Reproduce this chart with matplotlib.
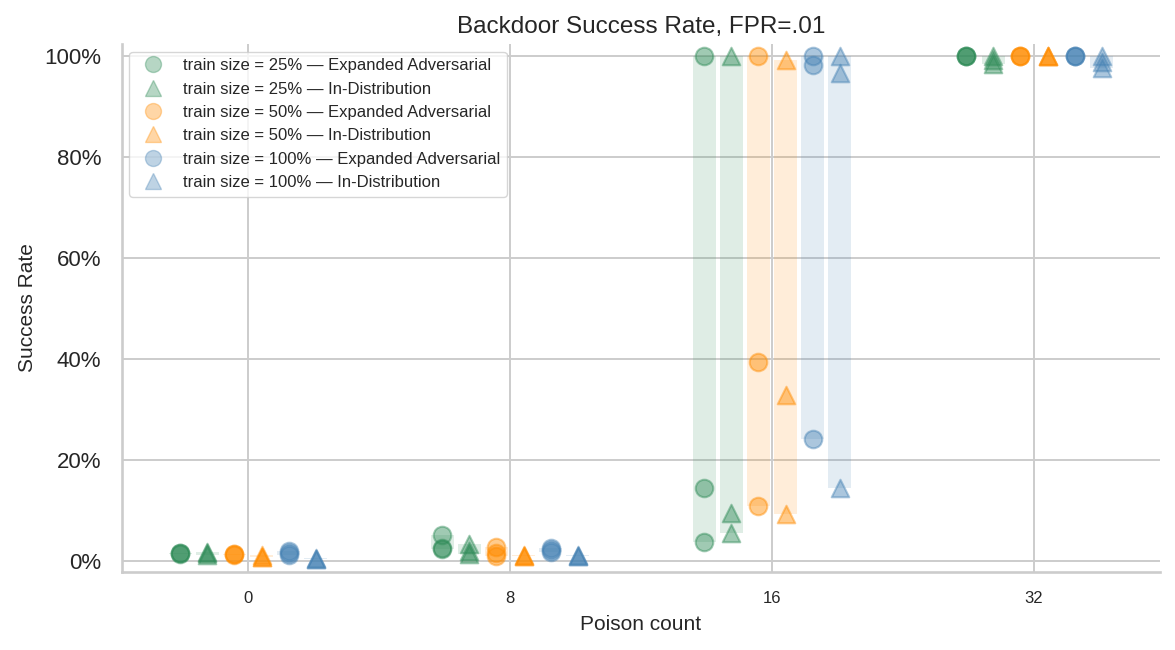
import matplotlib
matplotlib.use("Agg")
import matplotlib.pyplot as plt
from matplotlib.lines import Line2D
from matplotlib.ticker import PercentFormatter
import numpy as np

plt.rcParams["font.family"] = ["Liberation Sans", "DejaVu Sans"]
plt.rcParams["text.color"] = "#262626"
plt.rcParams["axes.labelcolor"] = "#262626"
plt.rcParams["xtick.color"] = "#262626"
plt.rcParams["ytick.color"] = "#262626"

poison_counts = ["0", "8", "16", "32"]
train_sizes = ["25%", "50%", "100%"]
kinds = ["Expanded Adversarial", "In-Distribution"]
colors = {"25%": "seagreen", "50%": "darkorange", "100%": "steelblue"}
markers = {"Expanded Adversarial": "o", "In-Distribution": "^"}

# success rate per run (%), one list per poison count
ts25_adv = [[1.5, 1.5, 1.4], [5.1, 2.3, 2.6], [100, 14.4, 3.7], [100, 100, 100]]
ts25_ind = [[1.8, 1.2, 1.5], [3.4, 1.4, 2.0], [100, 9.4, 5.6], [100, 99.3, 98.4]]
ts50_adv = [[1.4, 1.1, 1.3], [2.8, 1.5, 0.9], [100, 39.4, 10.8], [100, 100, 100]]
ts50_ind = [[0.8, 0.7, 1.2], [1.0, 0.9, 1.1], [99.2, 32.9, 9.2], [100, 100, 100]]
ts100_adv = [[1.9, 1.2, 1.5], [2.6, 1.8, 2.1], [100, 98.2, 24.1], [100, 100, 100]]
ts100_ind = [[0.4, 0.3, 0.5], [1.0, 0.9, 1.1], [100, 96.6, 14.5], [100, 98.8, 97.6]]

series = [
    ("25%", "Expanded Adversarial", ts25_adv),
    ("25%", "In-Distribution", ts25_ind),
    ("50%", "Expanded Adversarial", ts50_adv),
    ("50%", "In-Distribution", ts50_ind),
    ("100%", "Expanded Adversarial", ts100_adv),
    ("100%", "In-Distribution", ts100_ind),
]

fig = plt.figure(figsize=(11.75, 6.5), dpi=100)
ax = fig.add_axes([0.1038, 0.12, 0.8834, 0.8123])

step = 0.1035
handles = []
for i, (ts, kind, vals) in enumerate(series):
    c = colors[ts]
    m = markers[kind]
    off = (i - 2.5) * step
    for j, runs in enumerate(vals):
        runs = np.array(runs) / 100.0
        x = j + off
        ax.bar(x, runs.max() - runs.min(), bottom=runs.min(), width=0.088,
               color=c, alpha=0.15, linewidth=0, zorder=1)
        ax.scatter(np.full(len(runs), x), runs, s=160, marker=m, color=c,
                   alpha=0.45, linewidths=1.5, zorder=3)
    handles.append(Line2D([], [], linestyle="none", marker=m, markersize=11.5,
                          color=c, alpha=0.35,
                          label=f"train size = {ts} \u2014 {kind}"))

ax.set_xlim(-0.481, 3.481)
ax.set_ylim(-0.022, 1.024)
ax.set_xticks(range(len(poison_counts)))
ax.set_xticklabels(poison_counts)
ax.set_yticks([0, 0.2, 0.4, 0.6, 0.8, 1.0])
ax.yaxis.set_major_formatter(PercentFormatter(1.0, decimals=0))
ax.tick_params(axis="y", labelsize=16, length=0, pad=15)
ax.tick_params(axis="x", labelsize=12, length=0, pad=14)

ax.grid(True, color="#cccccc", linewidth=1.4, zorder=0)
ax.set_axisbelow(True)
for side in ["top", "right"]:
    ax.spines[side].set_visible(False)
for side in ["left", "bottom"]:
    ax.spines[side].set_color("#cccccc")
    ax.spines[side].set_linewidth(1.9)

ax.set_title("Backdoor Success Rate, FPR=.01", fontsize=17.5, pad=8)
ax.set_xlabel("Poison count", fontsize=15, labelpad=6)
ax.set_ylabel("Success Rate", fontsize=15, labelpad=5)

leg = ax.legend(handles=handles, loc="upper left", fontsize=12,
                frameon=True, borderaxespad=0.45)
leg.get_frame().set_edgecolor("#cccccc")

fig.savefig("out.png", dpi=100)
